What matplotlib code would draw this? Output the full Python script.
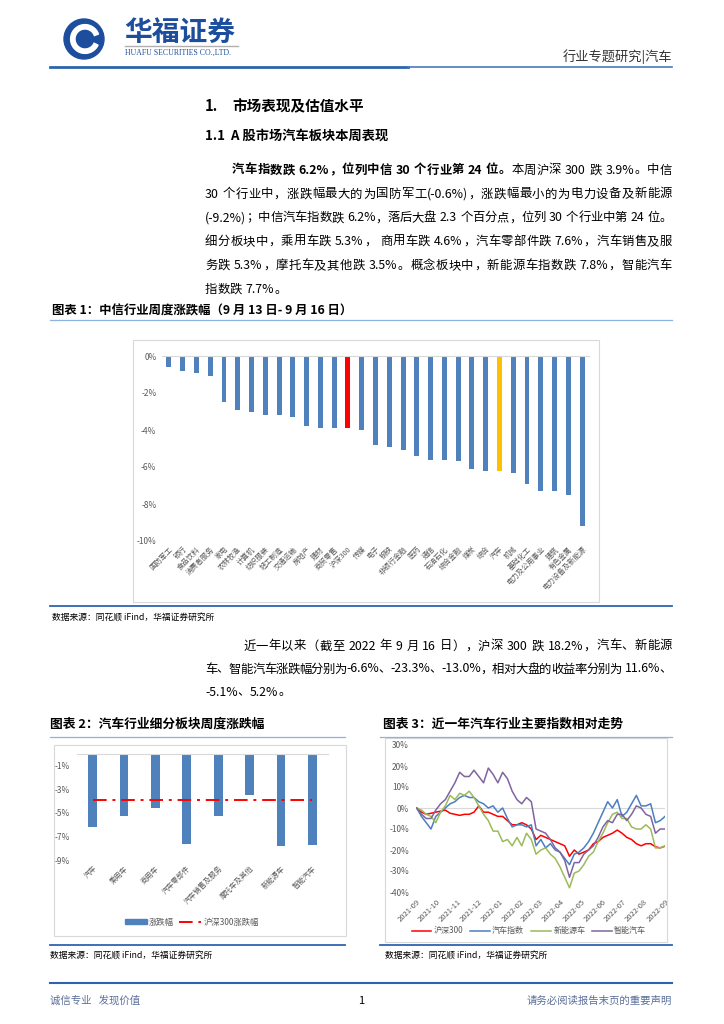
#
# 华福证券 汽车行业周报 - page 1 recreation
#
import re
import numpy as np
import pandas as pd
import matplotlib
matplotlib.use('Agg')
import matplotlib.pyplot as plt
from matplotlib.lines import Line2D
from matplotlib.patches import Rectangle, Circle, Wedge, Patch

plt.rcParams['font.family'] = ['Noto Sans CJK SC', 'DejaVu Sans']
plt.rcParams['axes.unicode_minus'] = False


# Chart 1: CITIC industries weekly change (%)
ind_names = ['国防军工', '银行', '食品饮料', '消费者服务', '家电', '农林牧渔', '计算机',
             '纺织服装', '轻工制造', '交通运输', '房地产', '建材', '商贸零售', '沪深300',
             '传媒', '电子', '钢铁', '非银行金融', '医药', '通信', '石油石化', '综合金融',
             '煤炭', '综合', '汽车', '机械', '基础化工', '电力及公用事业', '建筑',
             '有色金属', '电力设备及新能源']
ind_chg = [-0.6, -0.8, -0.9, -1.1, -2.5, -2.9, -3.0, -3.2, -3.2, -3.3, -3.8, -3.9,
           -3.9, -3.9, -4.0, -4.8, -4.9, -5.1, -5.4, -5.6, -5.6, -5.7, -6.1, -6.2,
           -6.2, -6.3, -6.9, -7.3, -7.3, -7.5, -9.2]

# Chart 2: auto sub-sectors weekly change (%)
sub_names = ['汽车', '乘用车', '商用车', '汽车零部件', '汽车销售及服务', '摩托车及其他',
             '新能源车', '智能汽车']
sub_chg = [-6.2, -5.3, -4.6, -7.6, -5.3, -3.5, -7.8, -7.7]
hs300_week = [-3.9, -3.9, -3.9, -3.9, -3.9, -3.9, -3.9, -3.9]

# Chart 3: one year relative trend (%), weekly readings
weeks = pd.date_range('2021-09-17', periods=53, freq='7D')
hs300 = [0, -2, -3, -2.5, -2, -1.5, -1, -2.5, -3, -3.5, -3, -3, -2, 1, -2, -2, -3, -4,
         -4, -6, -8, -8, -7, -8, -10, -15, -13, -14, -15, -16, -17, -18, -23, -20, -22,
         -21, -20, -17, -16, -14, -13, -12, -10.5, -12, -14, -15, -17, -18, -17, -17,
         -18.5, -19, -18.2]
auto_idx = [0, -4, -7, -10, -4, -2, 0, 2, 3, 5, 6, 5, 5, 3, 2, 0, 1, -2, 0, -5, -9, -8,
            -8, -9, -8, -18, -15, -19, -17, -20, -21, -24, -27, -22, -21, -19, -16, -12,
            -7, -2, 3, 0, 4, -4, -2, 2, 6, 1, 1, 2, -7, -6, -4]
nev_idx = [0, -1, -3, -4, -7, -2, 1, 6, 4, 7, 6, 8, 5, 1, -3, -6, -11, -11, -16, -15,
           -18, -14, -18, -12, -15, -22, -20, -19, -22, -24, -28, -33, -38, -31, -30,
           -27, -23, -21, -16, -12, -7, -3, -2, -5, -5, -9, -10, -10, -8, -10, -19, -19,
           -18]
smart_idx = [0, -3, -5, -5, -1, 2, 4, 8, 12, 17, 15, 15, 18, 15, 12, 19, 16, 12, 17, 14,
             8, 4, 2, 5, 3, -10, -11, -12, -15, -19, -21, -25, -33, -26, -26, -22, -20,
             -18, -14, -9, -6, -7, -3, -3, -6, -3, 1, 0, -3, -4, -12, -10, -10]
month_labels = ['2021-09', '2021-10', '2021-11', '2021-12', '2022-01', '2022-02',
                '2022-03', '2022-04', '2022-05', '2022-06', '2022-07', '2022-08', '2022-09']

BLUE = '#4f81bd'
DARK = '#1d4e9e'
GRAY = '#595959'
W, H = 724, 1024

fig = plt.figure(figsize=(W / 100, H / 100), dpi=100)
renderer = fig.canvas.get_renderer()


def fx(x):
    return x / W


def fy(y):
    return 1 - y / H


def axes_px(x0, y0, x1, y1):
    return fig.add_axes([x0 / W, 1 - y1 / H, (x1 - x0) / W, (y1 - y0) / H])


def hline(x0, x1, y, color, lw):
    fig.add_artist(Line2D([fx(x0), fx(x1)], [fy(y), fy(y)], transform=fig.transFigure,
                          color=color, lw=lw))


def frame(x0, y0, x1, y1):
    fig.add_artist(Rectangle((fx(x0), fy(y1)), (x1 - x0) / W, (y1 - y0) / H,
                             transform=fig.transFigure, fill=False,
                             edgecolor='#d9d9d9', lw=0.8))


def txt(x, y, s, size, **kw):
    kw.setdefault('va', 'center')
    return fig.text(fx(x), fy(y), s, fontsize=size, **kw)


def justify(segs, x0, x1, y, size, full=True):
    # lay a line out token by token so it fills x0..x1 like the report
    toks = []
    gap = 0.0
    for s, weight in segs:
        for m in re.finditer(r'[A-Za-z0-9.%()\-+]+| |.', s):
            t = m.group(0)
            if t == ' ':
                gap += size * 100 / 72 * 0.28
                continue
            obj = txt(x0, y, t, size, weight=weight)
            w = obj.get_window_extent(renderer).width
            toks.append([obj, w, gap])
            gap = 0.0
    total = sum(t[1] + t[2] for t in toks)
    extra = (x1 - x0 - total) / (len(toks) - 1) if full and len(toks) > 1 else 0
    xc = x0
    for i, (obj, w, g) in enumerate(toks):
        xc += g
        obj.set_x(fx(xc))
        xc += w + extra


# Header
axl = axes_px(60, 17, 108, 61)
axl.set_xlim(-1.1, 1.1)
axl.set_ylim(-1.1, 1.1)
axl.set_aspect('equal')
axl.axis('off')
axl.add_patch(Circle((0, 0), 1.0, color=DARK))
axl.add_patch(Wedge((0.05, 0), 0.72, 20, 335, width=0.22, color='white'))
axl.add_patch(Wedge((0.05, 0), 0.3, 0, 360, width=0.3, color=DARK))

txt(124, 34, '华福证券', 20, color=DARK, weight='bold')
hline(125, 238, 46, '#b0b0b0', 1.0)
txt(125, 53, 'HUAFU SECURITIES CO.,LTD.', 5.6, color=DARK, family='Liberation Serif')
txt(672, 57, '行业专题研究|汽车', 9.5, color='#333333', ha='right')
hline(50, 408, 67, '#2e63b0', 2.0)
hline(408, 672, 67, '#4a78c0', 1.2)

# Section headings
txt(205, 106, '1.', 10.5, weight='bold')
txt(232, 106, '市场表现及估值水平', 10.5, weight='bold')
txt(205, 136, '1.1  A 股市场汽车板块本周表现', 9.5, weight='bold')

# Paragraph 1
FS = 8.9
justify([('汽车指数跌 6.2%，位列中信 30 个行业第 24 位。', 'bold'),
         ('本周沪深 300 跌 3.9%。中信', 'normal')], 232, 672, 170, FS)
para1 = ['30 个行业中，涨跌幅最大的为国防军工(-0.6%)，涨跌幅最小的为电力设备及新能源',
         '(-9.2%)；中信汽车指数跌 6.2%，落后大盘 2.3 个百分点，位列 30 个行业中第 24 位。',
         '细分板块中，乘用车跌 5.3%， 商用车跌 4.6%，汽车零部件跌 7.6%，汽车销售及服',
         '务跌 5.3%，摩托车及其他跌 3.5%。概念板块中，新能源车指数跌 7.8%，智能汽车',
         '指数跌 7.7%。']
for i, line in enumerate(para1):
    justify([(line, 'normal')], 205, 672, 194 + i * 23.8, FS, full=i < len(para1) - 1)

# Chart 1
txt(52, 311, '图表 1：中信行业周度涨跌幅（9 月 13 日- 9 月 16 日）', 8.9, weight='bold')
hline(50, 672, 320, '#8db3e2', 0.9)
frame(133, 340, 599, 602)
ax1 = axes_px(162, 356, 589, 541)
x1 = np.arange(len(ind_names))
cols1 = [BLUE] * len(ind_names)
cols1[ind_names.index('沪深300')] = '#ff0000'
cols1[ind_names.index('汽车')] = '#ffc000'
ax1.bar(x1, ind_chg, width=0.36, color=cols1)
ax1.set_xlim(-0.5, len(ind_names) - 0.5)
ax1.set_ylim(-10, 0)
ax1.set_yticks([0, -2, -4, -6, -8, -10])
ax1.set_yticklabels([f'{v}%' for v in [0, -2, -4, -6, -8, -10]])
ax1.set_xticks(x1)
ax1.set_xticklabels(ind_names, rotation=45, ha='right', rotation_mode='anchor', fontsize=5.2)
for s in ['left', 'right', 'bottom']:
    ax1.spines[s].set_visible(False)
ax1.spines['top'].set_color('#d9d9d9')
ax1.spines['top'].set_linewidth(0.8)
ax1.tick_params(axis='both', length=0, labelcolor=GRAY)
ax1.tick_params(axis='y', labelsize=6, pad=4)
ax1.tick_params(axis='x', pad=3)
hline(50, 672, 606, '#2e63b0', 1.3)
txt(52, 618, '数据来源：同花顺 iFind，华福证券研究所', 6.3)

# Paragraph 2
justify([('近一年以来（截至 2022 年 9 月 16 日），沪深 300 跌 18.2%，汽车、新能源', 'normal')],
        243, 672, 646, FS)
justify([('车、智能汽车涨跌幅分别为-6.6%、-23.3%、-13.0%，相对大盘的收益率分别为 11.6%、', 'normal')],
        205, 672, 669, FS)
justify([('-5.1%、5.2%。', 'normal')], 205, 672, 692, FS, full=False)

# Chart 2
txt(50, 724, '图表 2：汽车行业细分板块周度涨跌幅', 9.2, weight='bold')
hline(50, 345, 737, '#8db3e2', 0.9)
frame(54, 745, 346, 936)
ax2 = axes_px(77, 754, 328, 860)
x2 = np.arange(len(sub_names))
ax2.bar(x2, sub_chg, width=0.28, color=BLUE, label='涨跌幅')
ax2.plot(x2, hs300_week, color='#ff0000', lw=1.4, dashes=[7, 3, 1.5, 3], label='沪深300涨跌幅')
ax2.set_xlim(-0.5, len(sub_names) - 0.5)
ax2.set_ylim(-9, 0)
ax2.set_yticks([-1, -3, -5, -7, -9])
ax2.set_yticklabels([f'{v}%' for v in [-1, -3, -5, -7, -9]])
ax2.set_xticks(x2)
ax2.set_xticklabels(sub_names, rotation=45, ha='right', rotation_mode='anchor', fontsize=5.2)
for s in ['left', 'right', 'bottom']:
    ax2.spines[s].set_visible(False)
ax2.spines['top'].set_color('#d9d9d9')
ax2.spines['top'].set_linewidth(0.8)
ax2.tick_params(axis='both', length=0, labelcolor=GRAY)
ax2.tick_params(axis='y', labelsize=6, pad=5)
ax2.tick_params(axis='x', pad=3)
ax2.legend(handles=[Patch(color=BLUE, label='涨跌幅'),
                    Line2D([], [], color='#ff0000', lw=1.4, dashes=[7, 3, 1.5, 3],
                           label='沪深300涨跌幅')],
           loc='center', bbox_to_anchor=(fx(192), fy(922)), bbox_transform=fig.transFigure,
           ncol=2, frameon=False, fontsize=6, handlelength=2.6, handleheight=0.6,
           columnspacing=0.6, handletextpad=0.3, labelcolor=GRAY)
hline(50, 345, 945, '#2e63b0', 1.3)
txt(50, 956, '数据来源：同花顺 iFind，华福证券研究所', 6.3)

# Chart 3
txt(383, 724, '图表 3：近一年汽车行业主要指数相对走势', 9.2, weight='bold')
hline(380, 672, 737, '#8db3e2', 0.9)
frame(385, 738, 667, 942)
ax3 = axes_px(416, 745, 665, 892)
ax3.axhline(0, color='#d9d9d9', lw=0.8)
ax3.plot(weeks, hs300, color='#ff0000', lw=1.1, label='沪深300')
ax3.plot(weeks, auto_idx, color='#4a7fc1', lw=1.1, label='汽车指数')
ax3.plot(weeks, nev_idx, color='#9bbb59', lw=1.1, label='新能源车')
ax3.plot(weeks, smart_idx, color='#8064a2', lw=1.1, label='智能汽车')
ax3.set_xlim(weeks[0], weeks[-1])
ax3.set_ylim(-40, 30)
yt3 = [30, 20, 10, 0, -10, -20, -30, -40]
ax3.set_yticks(yt3)
ax3.set_yticklabels([f'{v}%' for v in yt3])
month_ticks = pd.date_range('2021-09-16', periods=13, freq=pd.DateOffset(months=1))
ax3.set_xticks(month_ticks)
ax3.set_xticklabels(month_labels, rotation=45, ha='right', rotation_mode='anchor', fontsize=5.5)
for s in ax3.spines.values():
    s.set_visible(False)
ax3.tick_params(axis='both', length=0, labelcolor=GRAY)
ax3.tick_params(axis='y', labelsize=6, pad=5)
ax3.tick_params(axis='x', pad=4)
ax3.legend(loc='center', bbox_to_anchor=(fx(529), fy(931)), bbox_transform=fig.transFigure,
           ncol=4, frameon=False, fontsize=5.8, handlelength=2.4, columnspacing=0.9,
           handletextpad=0.3, labelcolor=GRAY)
hline(380, 672, 945, '#2e63b0', 1.3)
txt(385, 956, '数据来源：同花顺 iFind，华福证券研究所', 6.3)

# Footer
hline(50, 672, 983, '#2e63b0', 1.5)
txt(50, 1001, '诚信专业   发现价值', 7.5, color='#5b6f9a')
txt(361, 1001, '1', 8, ha='center')
txt(672, 1001, '请务必阅读报告末页的重要声明', 7.5, color='#5b6f9a', ha='right')

plt.savefig('out.png', dpi=100)
plt.close(fig)
